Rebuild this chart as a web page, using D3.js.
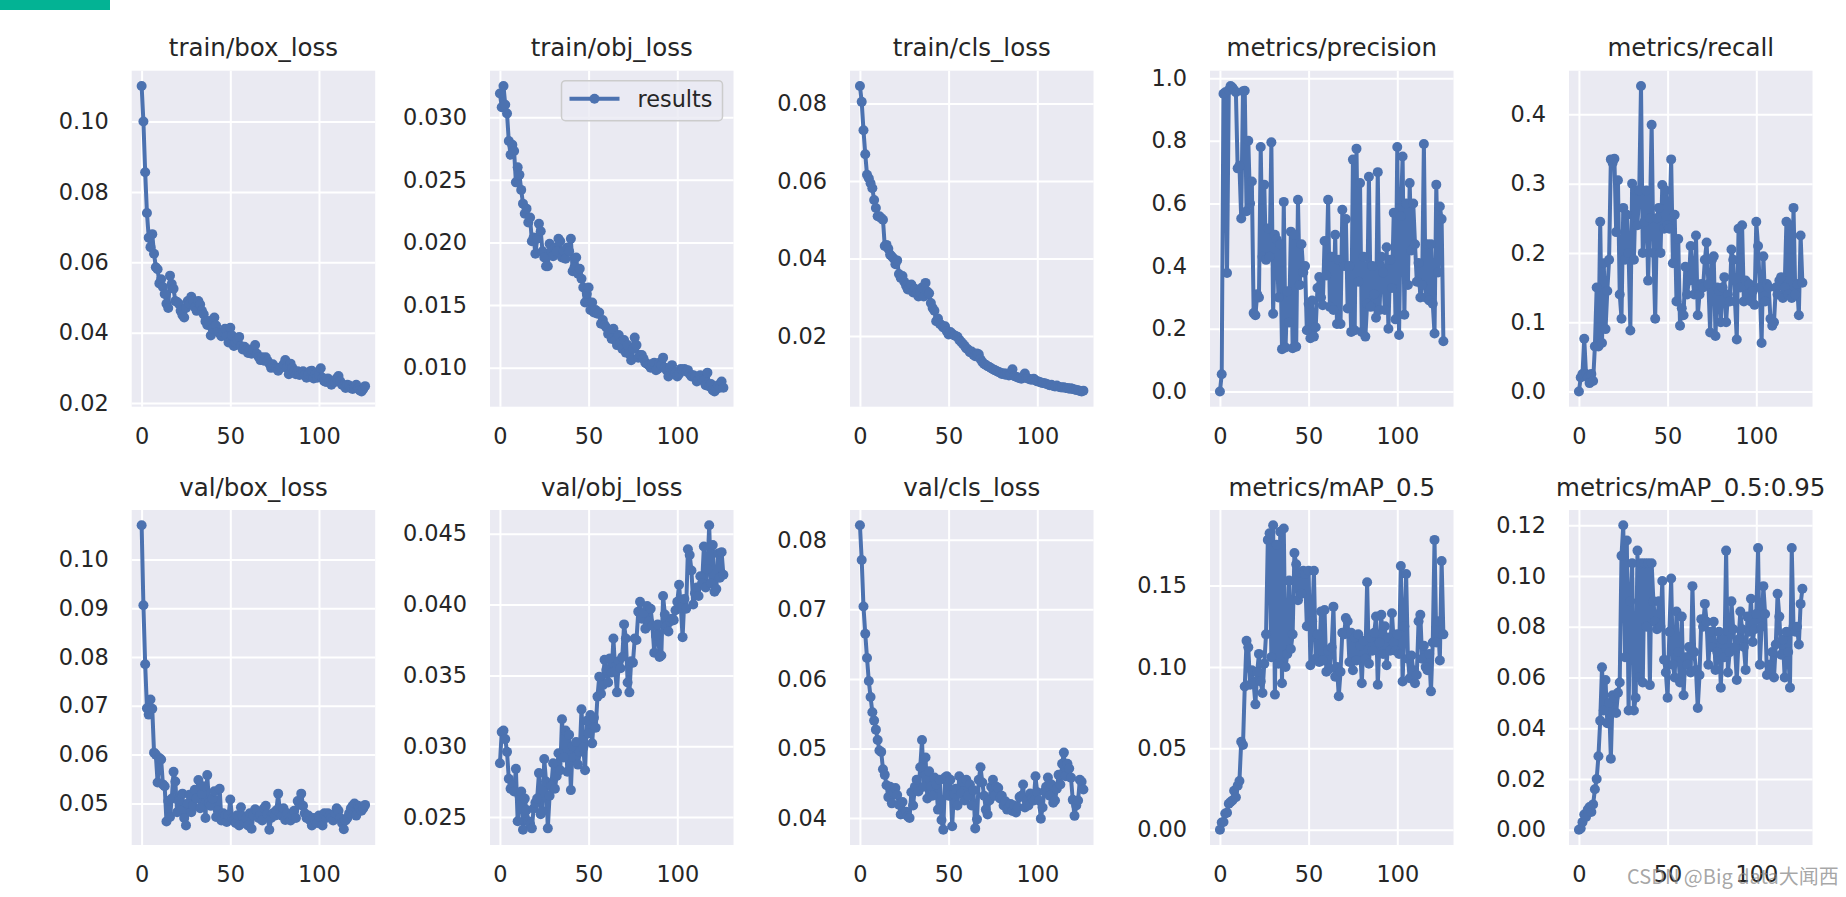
<!DOCTYPE html>
<html>
<head>
<meta charset="utf-8">
<script src="https://cdn.jsdelivr.net/npm/d3@7"></script>
<style>
  body { margin: 0; background: #fff; }
  svg { display: block; }
</style>
</head>
<body>
<div id="chart-container"></div>
<script>
// epochs 0..126 (one point per epoch)
const epochs = d3.range(127);

const titles = [
  "train/box_loss", "train/obj_loss", "train/cls_loss", "metrics/precision", "metrics/recall",
  "val/box_loss", "val/obj_loss", "val/cls_loss", "metrics/mAP_0.5", "metrics/mAP_0.5:0.95"
];

const xTicks = ["0", "50", "100"];

// y tick labels, per panel
const ticksTrainBox = ["0.02", "0.04", "0.06", "0.08", "0.10"];
const ticksTrainObj = ["0.010", "0.015", "0.020", "0.025", "0.030"];
const ticksTrainCls = ["0.02", "0.04", "0.06", "0.08"];
const ticksPrecision = ["0.0", "0.2", "0.4", "0.6", "0.8", "1.0"];
const ticksRecall = ["0.0", "0.1", "0.2", "0.3", "0.4"];
const ticksValBox = ["0.05", "0.06", "0.07", "0.08", "0.09", "0.10"];
const ticksValObj = ["0.025", "0.030", "0.035", "0.040", "0.045"];
const ticksValCls = ["0.04", "0.05", "0.06", "0.07", "0.08"];
const ticksMap50 = ["0.00", "0.05", "0.10", "0.15"];
const ticksMap5095 = ["0.00", "0.02", "0.04", "0.06", "0.08", "0.10", "0.12"];

// series
const trainBox = [
  0.1101, 0.1000, 0.0856, 0.0740, 0.0670, 0.0643, 0.0680, 0.0624, 0.0586, 0.0580,
  0.0540, 0.0552, 0.0530, 0.0510, 0.0482, 0.0470, 0.0562, 0.0538, 0.0525, 0.0490,
  0.0487, 0.0482, 0.0462, 0.0450, 0.0443, 0.0470, 0.0490, 0.0482, 0.0502, 0.0491,
  0.0472, 0.0462, 0.0490, 0.0480, 0.0462, 0.0452, 0.0432, 0.0422, 0.0433, 0.0392,
  0.0412, 0.0443, 0.0420, 0.0402, 0.0398, 0.0390, 0.0402, 0.0411, 0.0390, 0.0372,
  0.0414, 0.0392, 0.0362, 0.0372, 0.0380, 0.0388, 0.0362, 0.0352, 0.0360, 0.0350,
  0.0342, 0.0352, 0.0340, 0.0351, 0.0365, 0.0340, 0.0331, 0.0322, 0.0330, 0.0320,
  0.0330, 0.0320, 0.0312, 0.0300, 0.0310, 0.0302, 0.0298, 0.0292, 0.0300, 0.0302,
  0.0310, 0.0322, 0.0300, 0.0282, 0.0312, 0.0300, 0.0290, 0.0282, 0.0290, 0.0280,
  0.0282, 0.0290, 0.0280, 0.0272, 0.0282, 0.0290, 0.0292, 0.0270, 0.0282, 0.0272,
  0.0280, 0.0299, 0.0272, 0.0262, 0.0260, 0.0270, 0.0262, 0.0252, 0.0262, 0.0260,
  0.0270, 0.0277, 0.0262, 0.0252, 0.0250, 0.0243, 0.0252, 0.0250, 0.0242, 0.0240,
  0.0243, 0.0252, 0.0241, 0.0236, 0.0233, 0.0240, 0.0248
];
const trainObj = [
  0.0319, 0.0308, 0.0325, 0.0310, 0.0303, 0.0281, 0.0270, 0.0278, 0.0273, 0.0248,
  0.0260, 0.0254, 0.0242, 0.0231, 0.0223, 0.0227, 0.0216, 0.0220, 0.0201, 0.0204,
  0.0191, 0.0203, 0.0215, 0.0209, 0.0193, 0.0188, 0.0181, 0.0181, 0.0199, 0.0193,
  0.0189, 0.0196, 0.0193, 0.0203, 0.0201, 0.0188, 0.0193, 0.0187, 0.0196, 0.0193,
  0.0203, 0.0177, 0.0180, 0.0188, 0.0175, 0.0179, 0.0171, 0.0164, 0.0152, 0.0159,
  0.0164, 0.0146, 0.0152, 0.0144, 0.0146, 0.0143, 0.0144, 0.0135, 0.0138, 0.0134,
  0.0132, 0.0127, 0.0128, 0.0123, 0.0131, 0.0122, 0.0118, 0.0126, 0.0120, 0.0115,
  0.0122, 0.0112, 0.0118, 0.0111, 0.0106, 0.0115, 0.0124, 0.0118, 0.0108, 0.0110,
  0.0110, 0.0107, 0.0104, 0.0103, 0.0102, 0.0100, 0.0103, 0.0104, 0.0098, 0.0099,
  0.0104, 0.0102, 0.0108, 0.0100, 0.0098, 0.0093, 0.0100, 0.0102, 0.0097, 0.0096,
  0.0093, 0.0095, 0.0099, 0.0098, 0.0099, 0.0097, 0.0098, 0.0095, 0.0093, 0.0094,
  0.0093, 0.0089, 0.0090, 0.0094, 0.0091, 0.0090, 0.0086, 0.0096, 0.0085, 0.0087,
  0.0082, 0.0081, 0.0083, 0.0086, 0.0084, 0.0089, 0.0084
];
const trainCls = [
  0.0845, 0.0804, 0.0731, 0.0669, 0.0616, 0.0607, 0.0594, 0.0581, 0.0551, 0.0530,
  0.0509, 0.0509, 0.0504, 0.0500, 0.0432, 0.0435, 0.0425, 0.0410, 0.0405, 0.0400,
  0.0385, 0.0395, 0.0360, 0.0350, 0.0355, 0.0340, 0.0330, 0.0320, 0.0325, 0.0333,
  0.0312, 0.0322, 0.0310, 0.0302, 0.0312, 0.0325, 0.0302, 0.0337, 0.0315, 0.0310,
  0.0285, 0.0272, 0.0265, 0.0238, 0.0245, 0.0232, 0.0228, 0.0222, 0.0225, 0.0212,
  0.0204, 0.0210, 0.0206, 0.0202, 0.0200, 0.0198, 0.0190, 0.0185, 0.0180, 0.0175,
  0.0168, 0.0165, 0.0158, 0.0160, 0.0152, 0.0148, 0.0155, 0.0153, 0.0140, 0.0133,
  0.0128, 0.0125, 0.0122, 0.0120, 0.0117, 0.0114, 0.0112, 0.0110, 0.0107, 0.0106,
  0.0102, 0.0104, 0.0100, 0.0103, 0.0098, 0.0100, 0.0114, 0.0097, 0.0095, 0.0093,
  0.0092, 0.0090, 0.0093, 0.0103, 0.0092, 0.0090, 0.0088, 0.0087, 0.0090, 0.0085,
  0.0083, 0.0082, 0.0080, 0.0079, 0.0078, 0.0077, 0.0075, 0.0073, 0.0074, 0.0071,
  0.0070, 0.0072, 0.0069, 0.0068, 0.0067, 0.0068, 0.0066, 0.0066, 0.0064, 0.0065,
  0.0063, 0.0062, 0.0061, 0.0060, 0.0058, 0.0057, 0.0059
];
const precision = [
  0.000, 0.055, 0.950, 0.955, 0.378, 0.962, 0.975, 0.970, 0.962, 0.955,
  0.712, 0.720, 0.552, 0.958, 0.960, 0.575, 0.800, 0.600, 0.670, 0.250,
  0.243, 0.310, 0.300, 0.780, 0.430, 0.660, 0.420, 0.520, 0.430, 0.795,
  0.248, 0.500, 0.485, 0.300, 0.470, 0.135, 0.605, 0.140, 0.320, 0.220,
  0.510, 0.138, 0.500, 0.143, 0.612, 0.340, 0.470, 0.380, 0.400, 0.195,
  0.280, 0.170, 0.290, 0.175, 0.205, 0.330, 0.365, 0.300, 0.275, 0.480,
  0.370, 0.612, 0.270, 0.430, 0.260, 0.500, 0.215, 0.420, 0.215, 0.580,
  0.400, 0.550, 0.265, 0.400, 0.190, 0.740, 0.195, 0.775, 0.350, 0.665,
  0.190, 0.430, 0.175, 0.280, 0.685, 0.270, 0.400, 0.310, 0.235, 0.700,
  0.260, 0.430, 0.380, 0.260, 0.460, 0.200, 0.420, 0.330, 0.570, 0.230,
  0.780, 0.180, 0.560, 0.750, 0.245, 0.600, 0.340, 0.665, 0.450, 0.600,
  0.470, 0.350, 0.410, 0.300, 0.340, 0.790, 0.300, 0.470, 0.290, 0.470,
  0.280, 0.185, 0.660, 0.380, 0.590, 0.550, 0.160
];
const recall = [
  0.000, 0.020, 0.025, 0.076, 0.025, 0.020, 0.012, 0.025, 0.015, 0.065,
  0.150, 0.065, 0.245, 0.070, 0.185, 0.090, 0.145, 0.190, 0.335, 0.330,
  0.336, 0.230, 0.305, 0.140, 0.105, 0.265, 0.190, 0.255, 0.200, 0.088,
  0.300, 0.190, 0.290, 0.240, 0.290, 0.441, 0.200, 0.245, 0.290, 0.160,
  0.250, 0.385, 0.200, 0.105, 0.250, 0.265, 0.200, 0.298, 0.235, 0.290,
  0.240, 0.235, 0.335, 0.185, 0.255, 0.130, 0.220, 0.095, 0.120, 0.110,
  0.180, 0.140, 0.160, 0.210, 0.170, 0.140, 0.225, 0.110, 0.140, 0.155,
  0.150, 0.190, 0.215, 0.155, 0.085, 0.190, 0.195, 0.080, 0.150, 0.145,
  0.100, 0.150, 0.165, 0.100, 0.140, 0.130, 0.205, 0.190, 0.130, 0.075,
  0.235, 0.150, 0.240, 0.130, 0.160, 0.140, 0.155, 0.130, 0.145, 0.125,
  0.245, 0.210, 0.150, 0.070, 0.195, 0.130, 0.155, 0.150, 0.105, 0.095,
  0.100, 0.150, 0.140, 0.160, 0.165, 0.135, 0.150, 0.245, 0.140, 0.240,
  0.135, 0.265, 0.140, 0.155, 0.110, 0.225, 0.157
];
const valBox = [
  0.1070, 0.0906, 0.0785, 0.0695, 0.0682, 0.0713, 0.0694, 0.0604, 0.0600, 0.0543,
  0.0593, 0.0590, 0.0539, 0.0535, 0.0463, 0.0505, 0.0472, 0.0510, 0.0565, 0.0545,
  0.0482, 0.0505, 0.0485, 0.0520, 0.0470, 0.0455, 0.0500, 0.0518, 0.0482, 0.0495,
  0.0528, 0.0510, 0.0548, 0.0490, 0.0520, 0.0535, 0.0470, 0.0558, 0.0502, 0.0495,
  0.0510, 0.0525, 0.0472, 0.0485, 0.0530, 0.0465, 0.0480, 0.0475, 0.0462, 0.0476,
  0.0508, 0.0470, 0.0465, 0.0460, 0.0476, 0.0455, 0.0492, 0.0474, 0.0460, 0.0470,
  0.0455, 0.0480, 0.0448, 0.0476, 0.0488, 0.0485, 0.0470, 0.0476, 0.0465, 0.0490,
  0.0495, 0.0478, 0.0446, 0.0470, 0.0480, 0.0475, 0.0486, 0.0520, 0.0480, 0.0475,
  0.0490, 0.0466, 0.0480, 0.0470, 0.0465, 0.0476, 0.0485, 0.0470, 0.0505, 0.0498,
  0.0520, 0.0495, 0.0480, 0.0470, 0.0475, 0.0465, 0.0455, 0.0470, 0.0465, 0.0460,
  0.0475, 0.0470, 0.0455, 0.0480, 0.0470, 0.0480, 0.0475, 0.0470, 0.0465, 0.0480,
  0.0490, 0.0485, 0.0470, 0.0460, 0.0447, 0.0465, 0.0470, 0.0480, 0.0490, 0.0495,
  0.0500, 0.0475, 0.0495, 0.0490, 0.0485, 0.0490, 0.0497
];
const valObj = [
  0.0288, 0.0310, 0.0311, 0.0305, 0.0296, 0.0277, 0.0270, 0.0272, 0.0268, 0.0284,
  0.0247, 0.0265, 0.0268, 0.0241, 0.0263, 0.0255, 0.0247, 0.0245, 0.0242, 0.0256,
  0.0260, 0.0263, 0.0281, 0.0252, 0.0254, 0.0291, 0.0275, 0.0242, 0.0265, 0.0272,
  0.0288, 0.0270, 0.0279, 0.0295, 0.0283, 0.0319, 0.0292, 0.0311, 0.0282, 0.0308,
  0.0269, 0.0300, 0.0292, 0.0303, 0.0287, 0.0296, 0.0326, 0.0299, 0.0283, 0.0318,
  0.0309, 0.0322, 0.0302, 0.0320, 0.0313, 0.0335, 0.0349, 0.0337, 0.0343, 0.0361,
  0.0354, 0.0345, 0.0362, 0.0352, 0.0376, 0.0353, 0.0338, 0.0360, 0.0355, 0.0363,
  0.0386, 0.0376, 0.0345, 0.0338, 0.0360, 0.0359, 0.0376, 0.0375, 0.0395, 0.0402,
  0.0390, 0.0394, 0.0383, 0.0399, 0.0388, 0.0397, 0.0385, 0.0366, 0.0378, 0.0386,
  0.0363, 0.0364, 0.0406, 0.0393, 0.0385, 0.0381, 0.0388, 0.0390, 0.0389, 0.0396,
  0.0402, 0.0414, 0.0398, 0.0377, 0.0404, 0.0397, 0.0439, 0.0435, 0.0424, 0.0400,
  0.0408, 0.0412, 0.0406, 0.0420, 0.0415, 0.0441, 0.0412, 0.0425, 0.0456, 0.0415,
  0.0442, 0.0409, 0.0411, 0.0436, 0.0419, 0.0437, 0.0421
];
const valCls = [
  0.0821, 0.0771, 0.0704, 0.0665, 0.0630, 0.0597, 0.0574, 0.0552, 0.0540, 0.0527,
  0.0512, 0.0497, 0.0495, 0.0470, 0.0462, 0.0447, 0.0430, 0.0445, 0.0421, 0.0437,
  0.0443, 0.0433, 0.0419, 0.0405, 0.0423, 0.0406, 0.0409, 0.0402, 0.0400, 0.0437,
  0.0418, 0.0445, 0.0455, 0.0438, 0.0473, 0.0512, 0.0445, 0.0487, 0.0428, 0.0467,
  0.0445, 0.0432, 0.0458, 0.0448, 0.0412, 0.0455, 0.0397, 0.0383, 0.0458, 0.0460,
  0.0432, 0.0455, 0.0388, 0.0435, 0.0442, 0.0418, 0.0460, 0.0435, 0.0452, 0.0425,
  0.0455, 0.0432, 0.0448, 0.0418, 0.0440, 0.0385, 0.0398, 0.0455, 0.0473, 0.0451,
  0.0432, 0.0412, 0.0405, 0.0425, 0.0445, 0.0455, 0.0432, 0.0445, 0.0443, 0.0428,
  0.0432, 0.0418, 0.0424, 0.0412, 0.0415, 0.0420, 0.0410, 0.0418, 0.0408, 0.0415,
  0.0430, 0.0432, 0.0448, 0.0415, 0.0425, 0.0418, 0.0435, 0.0428, 0.0425, 0.0460,
  0.0437, 0.0425, 0.0399, 0.0415, 0.0438, 0.0445, 0.0458, 0.0432, 0.0448, 0.0422,
  0.0425, 0.0442, 0.0462, 0.0448, 0.0478, 0.0494, 0.0460, 0.0478, 0.0471, 0.0458,
  0.0426, 0.0403, 0.0418, 0.0425, 0.0455, 0.0452, 0.0441
];
const map50 = [
  0.000, 0.0045, 0.0048, 0.010, 0.0105, 0.016, 0.017, 0.018, 0.024, 0.020,
  0.027, 0.030, 0.054, 0.052, 0.088, 0.116, 0.112, 0.089, 0.098, 0.090,
  0.077, 0.097, 0.108, 0.091, 0.084, 0.102, 0.120, 0.178, 0.182, 0.106,
  0.187, 0.083, 0.175, 0.102, 0.183, 0.090, 0.185, 0.100, 0.108, 0.153,
  0.111, 0.120, 0.170, 0.163, 0.141, 0.158, 0.145, 0.159, 0.157, 0.125,
  0.159, 0.101, 0.128, 0.159, 0.105, 0.120, 0.103, 0.134, 0.104, 0.135,
  0.097, 0.110, 0.099, 0.112, 0.137, 0.094, 0.100, 0.082, 0.097, 0.121,
  0.120, 0.130, 0.128, 0.103, 0.121, 0.098, 0.118, 0.104, 0.120, 0.113,
  0.090, 0.116, 0.105, 0.152, 0.102, 0.118, 0.110, 0.121, 0.131, 0.089,
  0.115, 0.132, 0.108, 0.125, 0.101, 0.118, 0.110, 0.133, 0.115, 0.110,
  0.120, 0.108, 0.162, 0.091, 0.125, 0.157, 0.105, 0.093, 0.107, 0.098,
  0.090, 0.095, 0.128, 0.132, 0.105, 0.113, 0.100, 0.098, 0.108, 0.085,
  0.115, 0.178, 0.115, 0.128, 0.104, 0.165, 0.120
];
const map5095 = [
  0.000, 0.0005, 0.003, 0.006, 0.005, 0.008, 0.009, 0.007, 0.010, 0.016,
  0.020, 0.029, 0.043, 0.064, 0.047, 0.059, 0.042, 0.050, 0.028, 0.053,
  0.052, 0.046, 0.054, 0.058, 0.108, 0.120, 0.068, 0.114, 0.047, 0.090,
  0.105, 0.047, 0.052, 0.110, 0.060, 0.105, 0.058, 0.105, 0.080, 0.105,
  0.057, 0.105, 0.090, 0.082, 0.079, 0.090, 0.080, 0.098, 0.067, 0.062,
  0.052, 0.078, 0.099, 0.065, 0.060, 0.086, 0.070, 0.058, 0.084, 0.053,
  0.068, 0.065, 0.072, 0.062, 0.096, 0.070, 0.063, 0.048, 0.061, 0.083,
  0.080, 0.089, 0.082, 0.065, 0.078, 0.072, 0.082, 0.063, 0.070, 0.078,
  0.056, 0.075, 0.068, 0.110, 0.062, 0.070, 0.090, 0.079, 0.072, 0.059,
  0.075, 0.086, 0.079, 0.072, 0.063, 0.084, 0.078, 0.091, 0.074, 0.079,
  0.085, 0.111, 0.065, 0.080, 0.096, 0.085, 0.061, 0.065, 0.063, 0.070,
  0.060, 0.073, 0.093, 0.084, 0.069, 0.075, 0.060, 0.078, 0.070, 0.056,
  0.111, 0.080, 0.078, 0.080, 0.073, 0.089, 0.095
];

const seriesList = [trainBox, trainObj, trainCls, precision, recall, valBox, valObj, valCls, map50, map5095];
const tickList = [ticksTrainBox, ticksTrainObj, ticksTrainCls, ticksPrecision, ticksRecall,
  ticksValBox, ticksValObj, ticksValCls, ticksMap50, ticksMap5095];

function chart() {
  const width = 1846;
  const height = 897;
  const plotW = 243.5;
  const colLeft = [131.7, 490, 850, 1210, 1569];
  const rowTop = [70.7, 510];
  const rowH = [336, 335];
  const blue = "#4c72b0";
  const ink = "#262626";
  const font = "'DejaVu Sans', sans-serif";

  const svg = d3.create("svg")
    .attr("width", width)
    .attr("height", height)
    .attr("viewBox", [0, 0, width, height])
    .style("background", "#fff");

  // green strip top left
  svg.append("rect")
    .attr("x", 0).attr("y", 0)
    .attr("width", 110).attr("height", 10)
    .attr("fill", "#03b394");

  seriesList.forEach((values, i) => {
    const left = colLeft[i % 5];
    const top = rowTop[Math.floor(i / 5)];
    const plotH = rowH[Math.floor(i / 5)];

    const x = d3.scaleLinear()
      .domain([-5.6, 131.7])
      .range([left, left + plotW]);

    // matplotlib style 5% margin
    const [lo, hi] = d3.extent(values);
    const pad = (hi - lo) * 0.05;
    const y = d3.scaleLinear()
      .domain([lo - pad, hi + pad])
      .range([top + plotH, top]);

    const g = svg.append("g");

    g.append("rect")
      .attr("x", left).attr("y", top)
      .attr("width", plotW).attr("height", plotH)
      .attr("fill", "#eaeaf2");

    //x-axis + vertical grid
    const xAxis = g.append("g")
      .attr("transform", `translate(0,${top + plotH})`)
      .call(d3.axisBottom(x)
        .tickValues(xTicks.map(Number))
        .tickFormat((d, k) => xTicks[k])
        .tickSize(-plotH)
        .tickPadding(21.5));

    //y-axis + horizontal grid
    const ticks = tickList[i];
    const yAxis = g.append("g")
      .attr("transform", `translate(${left},0)`)
      .call(d3.axisLeft(y)
        .tickValues(ticks.map(Number))
        .tickFormat((d, k) => ticks[k])
        .tickSize(-plotW)
        .tickPadding(23));

    [xAxis, yAxis].forEach(ax => {
      ax.attr("font-family", font).attr("font-size", 22.4);
      ax.select(".domain").remove();
      ax.selectAll(".tick line").attr("stroke", "#fff").attr("stroke-width", 2);
      ax.selectAll(".tick text").attr("fill", ink);
    });

    g.append("text")
      .attr("x", left + plotW / 2)
      .attr("y", top - 14.5)
      .attr("text-anchor", "middle")
      .attr("font-family", font)
      .attr("font-size", 24.5)
      .attr("fill", ink)
      .text(titles[i]);

    const clipId = `clip-${i}`;
    g.append("clipPath").attr("id", clipId)
      .append("rect")
      .attr("x", left).attr("y", top)
      .attr("width", plotW).attr("height", plotH);

    const line = d3.line()
      .x((d, k) => x(epochs[k]))
      .y(d => y(d));

    const marks = g.append("g").attr("clip-path", `url(#${clipId})`);

    marks.append("path")
      .datum(values)
      .attr("fill", "none")
      .attr("stroke", blue)
      .attr("stroke-width", 4)
      .attr("stroke-linejoin", "round")
      .attr("d", line);

    marks.append("g")
      .attr("fill", blue)
      .selectAll("circle")
      .data(values)
      .join("circle")
      .attr("cx", (d, k) => x(epochs[k]))
      .attr("cy", d => y(d))
      .attr("r", 5);

    // legend sits in the second panel only
    if (i === 1) {
      const lx = left + plotW - 11 - 161;
      const ly = top + 10;
      const lg = g.append("g").attr("transform", `translate(${lx},${ly})`);
      lg.append("rect")
        .attr("width", 161).attr("height", 40)
        .attr("rx", 4)
        .attr("fill", "#eaeaf2").attr("fill-opacity", 0.8)
        .attr("stroke", "#cccccc").attr("stroke-width", 1.5);
      lg.append("line")
        .attr("x1", 8).attr("x2", 58)
        .attr("y1", 18).attr("y2", 18)
        .attr("stroke", blue).attr("stroke-width", 4);
      lg.append("circle")
        .attr("cx", 33).attr("cy", 18).attr("r", 5)
        .attr("fill", blue);
      lg.append("text")
        .attr("x", 76).attr("y", 26)
        .attr("font-family", font)
        .attr("font-size", 22.4)
        .attr("fill", ink)
        .text("results");
    }
  });

  // watermark
  svg.append("text")
    .attr("x", 1627)
    .attr("y", 884)
    .attr("font-family", "'Noto Sans CJK SC', 'Noto Sans', sans-serif")
    .attr("font-size", 20)
    .attr("fill", "#808080")
    .attr("fill-opacity", 0.7)
    .text("CSDN @Big data大闻西");

  d3.select("#chart-container").append(() => svg.node());
}

chart();
</script>
</body>
</html>
